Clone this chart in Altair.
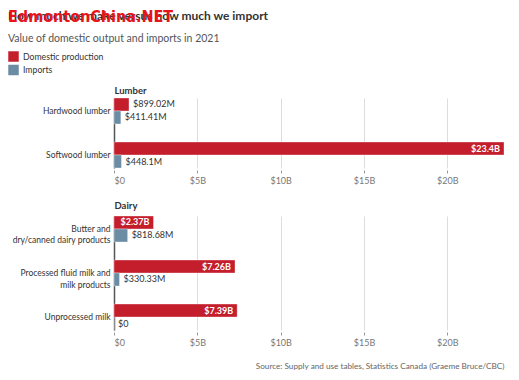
import altair as alt
import pandas as pd

series = ["Domestic production", "Imports"]

lumber_cats = ["Hardwood lumber", "Softwood lumber"]
lumber_domestic = [0.89902, 23.4]
lumber_imports = [0.41141, 0.4481]
lumber_dom_labels = ["$899.02M", "$23.4B"]
lumber_imp_labels = ["$411.41M", "$448.1M"]

dairy_cats = ["Butter and|dry/canned dairy products",
              "Processed fluid milk and|milk products",
              "Unprocessed milk"]
dairy_domestic = [2.37, 7.26, 7.39]
dairy_imports = [0.81868, 0.33033, 0.0]
dairy_dom_labels = ["$2.37B", "$7.26B", "$7.39B"]
dairy_imp_labels = ["$818.68M", "$330.33M", "$0"]

x_ticks = [0, 5, 10, 15, 20]

RED = "#c41e2d"
BLUE = "#6c8ca4"
FONT = "Lato"

lumber_legend = alt.Legend(orient="none", legendX=-106, legendY=-47, title=None,
                           symbolType="square", symbolSize=110, symbolStrokeWidth=0,
                           labelFontSize=8.7, labelColor="#333", rowPadding=2.5,
                           labelFont=FONT, padding=0)


def frame(cats, dom, imp, dl, il):
    rows = []
    for c, d, i, a, b in zip(cats, dom, imp, dl, il):
        rows.append(dict(cat=c, series=series[0], value=d, label=a))
        rows.append(dict(cat=c, series=series[1], value=i, label=b))
    return pd.DataFrame(rows)


def panel(df, cats, title, height, legend, title_pad):
    xscale = alt.Scale(domain=[0, 23.4], nice=False)
    base = alt.Chart(df).encode(
        y=alt.Y("cat:N", sort=cats,
                scale=alt.Scale(paddingInner=0.41, paddingOuter=0),
                axis=alt.Axis(title=None, labelExpr="split(datum.label, '|')",
                              ticks=False, domainColor="#555", domainWidth=1.5,
                              labelFontSize=8.5, labelColor="#333", labelPadding=4,
                              labelLineHeight=11.5, grid=False, labelFont=FONT)),
        yOffset=alt.YOffset("series:N", sort=series,
                            scale=alt.Scale(paddingInner=0, paddingOuter=0)),
    )
    bars = base.mark_bar(stroke="white", strokeWidth=1, strokeOpacity=0.35).encode(
        x=alt.X("value:Q", scale=xscale,
                axis=alt.Axis(values=x_ticks, title=None,
                              labelExpr="datum.value == 0 ? '$0' : '$' + datum.value + 'B'",
                              domain=False, offset=2, tickSize=3, tickColor="#999",
                              gridColor="#dddddd", labelColor="#777",
                              labelFontSize=9, labelFont=FONT, labelPadding=3)),
        color=alt.Color("series:N", scale=alt.Scale(domain=series, range=[RED, BLUE]),
                        legend=legend),
    )
    out_text = base.mark_text(align="left", dx=4, fontSize=9, color="#333",
                              font=FONT).encode(
        x=alt.X("value:Q", scale=xscale,
                axis=alt.Axis(orient="top", labels=False, ticks=False, domain=False,
                              grid=False, title=title, titleAnchor="start",
                              titleAlign="left", titleFontSize=9.5,
                              titleFontWeight="bold", titleColor="#333",
                              titleFont=FONT, titlePadding=title_pad)),
        text="label:N").transform_filter("datum.value < 2")
    in_text = base.mark_text(align="right", dx=-4, fontSize=9, color="white",
                             fontWeight="bold", font=FONT).encode(
        x=alt.X("value:Q", scale=xscale, axis=None),
        text="label:N").transform_filter("datum.value >= 2")
    return alt.layer(bars, out_text, in_text).resolve_axis(x="independent").properties(
        width=390, height=height)


lumber = panel(frame(lumber_cats, lumber_domestic, lumber_imports,
                     lumber_dom_labels, lumber_imp_labels), lumber_cats, "Lumber", 70,
               lumber_legend, 3)
dairy = panel(frame(dairy_cats, dairy_domestic, dairy_imports,
                    dairy_dom_labels, dairy_imp_labels), dairy_cats, "Dairy", 114, None, 6)

panels = alt.vconcat(lumber, dairy, spacing=15,
                     title=alt.TitleParams(
                         "Source: Supply and use tables, Statistics Canada (Graeme Bruce/CBC)",
                         orient="bottom", anchor="end", fontSize=8.2, fontWeight="normal",
                         color="#666", offset=16, font=FONT)
                     ).resolve_scale(y="independent").resolve_legend(color="independent")

titled = alt.vconcat(panels, title=alt.TitleParams(
    "How much we make versus how much we import",
    subtitle="Value of domestic output and imports in 2021",
    anchor="start", fontSize=12, fontWeight="bold", color="#333",
    subtitleFontSize=10.5, subtitleColor="#555", subtitlePadding=11,
    font=FONT, subtitleFont=FONT, offset=6))

chart = alt.vconcat(titled, title=alt.TitleParams(
    "EdmontonChina.NET", anchor="start", fontSize=16, fontWeight="bold",
    color="#e8141c", font="DejaVu Sans Condensed, Liberation Sans, sans-serif",
    offset=-19, dy=-4)
).properties(padding={"left": 0, "top": 0, "right": 5, "bottom": 5}
).configure_view(stroke=None)

chart.save("out.html", embed_options={"renderer": "svg", "actions": False})
